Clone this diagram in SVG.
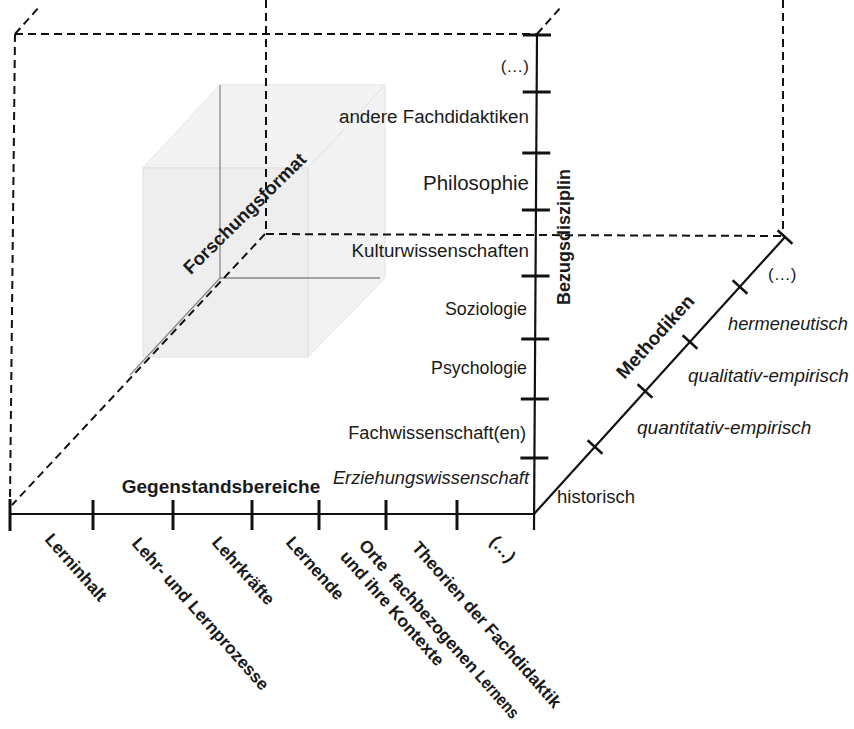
<svg xmlns="http://www.w3.org/2000/svg" width="854" height="729" viewBox="0 0 854 729">
<style>
.t{font-family:"Liberation Sans",Arial,sans-serif;fill:#1a1a1a}
.b{font-weight:bold}
.i{font-style:italic}
.lb{font-weight:bold;font-size:17.3px}
.dash{fill:none;stroke:#111;stroke-width:2;stroke-dasharray:8 5}
.ax{fill:none;stroke:#111;stroke-width:2.2}
.tk{fill:none;stroke:#111;stroke-width:3}
.tkd{fill:none;stroke:#111;stroke-width:2.5}
.edge{fill:none;stroke:#888;stroke-width:1.3}
</style>
<rect width="854" height="729" fill="#ffffff"/>
<g id="cube">
<polygon points="143,168 220,85 385,85 308,168" fill="#f3f3f3" stroke="#e3e3e3"/>
<polygon points="308,168 385,85 385,278 308,357" fill="#f2f2f2" stroke="#e3e3e3"/>
<rect x="143" y="168" width="165" height="189" fill="#eeeeee" stroke="#e0e0e0"/>
<line class="edge" x1="220" y1="85" x2="220" y2="278"/>
<line class="edge" x1="220" y1="278" x2="380" y2="278"/>
<line class="edge" x1="220" y1="278" x2="130" y2="375" stroke="#999"/>
</g>
<g id="connectors">
<path class="dash" d="M15,34 H537"/>
<path class="dash" d="M15,34 L10,500"/>
<path class="dash" d="M15,34 L40,6"/>
<path class="dash" d="M537,34 L561,7"/>
<path class="dash" d="M266,0 V234"/>
<path class="dash" d="M266,234 L783,236"/>
<path class="dash" d="M783,0 V235"/>
<path class="dash" d="M265,234 L12,505"/>
<path class="ax" d="M537,35 L534,530"/>
<path class="ax" d="M10,514 H534" stroke-width="2.5"/>
<path class="ax" d="M534,514 L785,237"/>
<g id="ticks-bezug">
<line class="tk" x1="523" y1="35" x2="551" y2="35"/>
<line class="tk" x1="522.7" y1="92" x2="550.7" y2="92"/>
<line class="tk" x1="522.3" y1="153" x2="550.3" y2="153"/>
<line class="tk" x1="521.9" y1="210" x2="549.9" y2="210"/>
<line class="tk" x1="521.5" y1="276" x2="549.5" y2="276"/>
<line class="tk" x1="521.2" y1="339" x2="549.2" y2="339"/>
<line class="tk" x1="520.8" y1="399" x2="548.8" y2="399"/>
<line class="tk" x1="520.4" y1="458" x2="548.4" y2="458"/>
</g>
<g id="ticks-gegenstand">
<line class="tk" x1="10" y1="499" x2="10" y2="531" stroke-width="4.5"/>
<line class="tk" x1="93" y1="500" x2="93" y2="530"/>
<line class="tk" x1="173" y1="500" x2="173" y2="530"/>
<line class="tk" x1="252" y1="500" x2="252" y2="530"/>
<line class="tk" x1="319" y1="500" x2="319" y2="530"/>
<line class="tk" x1="386" y1="500" x2="386" y2="530"/>
<line class="tk" x1="457" y1="500" x2="457" y2="530"/>
</g>
<g id="ticks-methodiken">
<line class="tkd" x1="777.6" y1="230.3" x2="792.4" y2="243.7"/>
<line class="tkd" x1="732.6" y1="280.3" x2="747.4" y2="293.7"/>
<line class="tkd" x1="682.6" y1="335.3" x2="697.4" y2="348.7"/>
<line class="tkd" x1="637.6" y1="384.3" x2="652.4" y2="397.7"/>
<line class="tkd" x1="587.6" y1="440.3" x2="602.4" y2="453.7"/>
</g>
</g>
<g id="axis-titles">
<text class="t b" x="221" y="493" font-size="19" text-anchor="middle">Gegenstandsbereiche</text>
<text class="t b" font-size="18" transform="translate(570,305) rotate(-90)">Bezugsdisziplin</text>
<text class="t b" font-size="19" text-anchor="middle" transform="translate(660,341) rotate(-47.8)">Methodiken</text>
<text class="t b" font-size="18.5" text-anchor="middle" transform="translate(249,218) rotate(-44.5)">Forschungsformat</text>
</g>
<g id="labels-bezug" text-anchor="end">
<text class="t" x="529" y="72" font-size="17">(…)</text>
<text class="t" x="529" y="123" font-size="18.8">andere Fachdidaktiken</text>
<text class="t" x="529" y="190" font-size="20.5">Philosophie</text>
<text class="t" x="529" y="257" font-size="18.8">Kulturwissenschaften</text>
<text class="t" x="527" y="315" font-size="17.8">Soziologie</text>
<text class="t" x="527" y="374" font-size="17.8">Psychologie</text>
<text class="t" x="526" y="439" font-size="18.3">Fachwissenschaft(en)</text>
<text class="t i" x="529" y="484" font-size="18.3">Erziehungswissenschaft</text>
</g>
<g id="labels-methodiken">
<text class="t" x="557" y="503" font-size="18.5">historisch</text>
<text class="t i" x="637" y="434" font-size="19">quantitativ-empirisch</text>
<text class="t i" x="688" y="382" font-size="18.8">qualitativ-empirisch</text>
<text class="t i" x="728" y="330" font-size="18.3">hermeneutisch</text>
<text class="t" x="768" y="280" font-size="17">(…)</text>
</g>
<g id="labels-gegenstand">
<text class="t lb" transform="translate(44,540) rotate(48.5)">Lerninhalt</text>
<text class="t lb" transform="translate(131,544) rotate(48.5)">Lehr- und Lernprozesse</text>
<text class="t lb" transform="translate(211,543) rotate(48.5)">Lehrkräfte</text>
<text class="t lb" transform="translate(285,543) rotate(48.5)">Lernende</text>
<g id="label-orte" transform="translate(358,546) rotate(48.5)">
<text class="t lb"><tspan x="0" y="0">Orte</tspan><tspan x="45" y="0">fachbezogenen</tspan><tspan x="-4" y="21.5">und ihre Kontexte</tspan></text>
<text class="t lb" x="175" y="0" textLength="57" lengthAdjust="spacingAndGlyphs">Lernens</text>
</g>
<text class="t lb" transform="translate(411,548) rotate(48.5)">Theorien der Fachdidaktik</text>
<text class="t lb" transform="translate(489,542) rotate(48.5)">(…)</text>
</g>
</svg>
